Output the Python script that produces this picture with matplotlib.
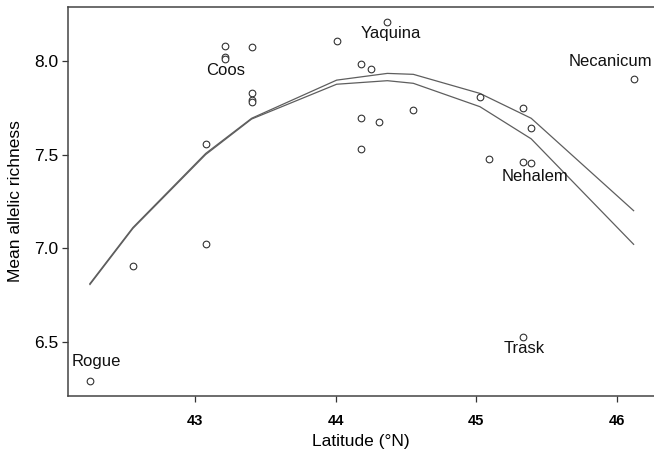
import matplotlib
matplotlib.use("Agg")
import matplotlib.pyplot as plt

plt.rcParams['font.family'] = ['Liberation Sans', 'DejaVu Sans']

# Observed populations
latitude = [42.25, 42.556, 43.074, 43.074, 43.211, 43.211, 43.211, 43.401, 43.401,
            43.401, 43.401, 44.006, 44.367, 44.181, 44.25, 44.181, 44.31, 44.552,
            44.181, 45.026, 45.334, 45.391, 45.093, 45.334, 45.391, 46.12, 45.332]
richness = [6.289, 6.905, 7.023, 7.556, 8.082, 8.022, 8.012, 8.073, 7.830,
            7.790, 7.780, 8.105, 8.210, 7.986, 7.957, 7.697, 7.672, 7.738,
            7.531, 7.807, 7.750, 7.643, 7.476, 7.460, 7.453, 7.903, 6.526]

# Fitted curves
fit_lat = [42.25, 42.556, 43.074, 43.401, 44.006, 44.367, 44.552, 45.026, 45.391, 46.12]
fit_upper = [6.81, 7.11, 7.506, 7.694, 7.898, 7.934, 7.929, 7.827, 7.694, 7.20]
fit_lower = [6.805, 7.105, 7.50, 7.69, 7.876, 7.895, 7.881, 7.756, 7.584, 7.02]

# River labels
river_names = ["Yaquina", "Coos", "Necanicum", "Nehalem", "Rogue", "Trask"]
river_lat = [44.39, 43.216, 45.955, 45.418, 42.298, 45.344]
river_val = [8.148, 7.948, 8.0, 7.381, 6.392, 6.464]

xticks = [43, 44, 45, 46]
yticks = [6.5, 7.0, 7.5, 8.0]

fig = plt.figure(figsize=(6.54, 4.49), dpi=100)
ax = fig.add_axes([0.1044, 0.118, 0.8956, 0.8664])

ax.plot(fit_lat, fit_upper, color='#5e5e5e', lw=0.9)
ax.plot(fit_lat, fit_lower, color='#5e5e5e', lw=0.9)
ax.plot(latitude, richness, linestyle='none', marker='o', markersize=4.8,
        markerfacecolor='white', markeredgecolor='#333333', markeredgewidth=0.8)

for name, la, v in zip(river_names, river_lat, river_val):
    ax.text(la, v, name, ha='center', va='center', fontsize=12, color='#111111')

ax.set_xlim(42.096, 46.265)
ax.set_ylim(6.209, 8.289)
ax.set_xticks(xticks)
ax.set_xticklabels([str(t) for t in xticks], fontsize=10.5, fontweight='bold')
ax.set_yticks(yticks)
ax.set_yticklabels([f"{t:.1f}" for t in yticks], fontsize=12.5)
ax.tick_params(direction='out', length=4, width=0.9, color='#333333', pad=3)
ax.tick_params(axis='x', pad=9)
ax.spines['right'].set_visible(False)
for s in ['left', 'bottom', 'top']:
    ax.spines[s].set_color('#444444')
    ax.spines[s].set_linewidth(1.1)

ax.set_xlabel("Latitude (°N)", fontsize=12.5, labelpad=4)
ax.set_ylabel("Mean allelic richness", fontsize=12.5, labelpad=8)

fig.savefig("out.png", dpi=100)
